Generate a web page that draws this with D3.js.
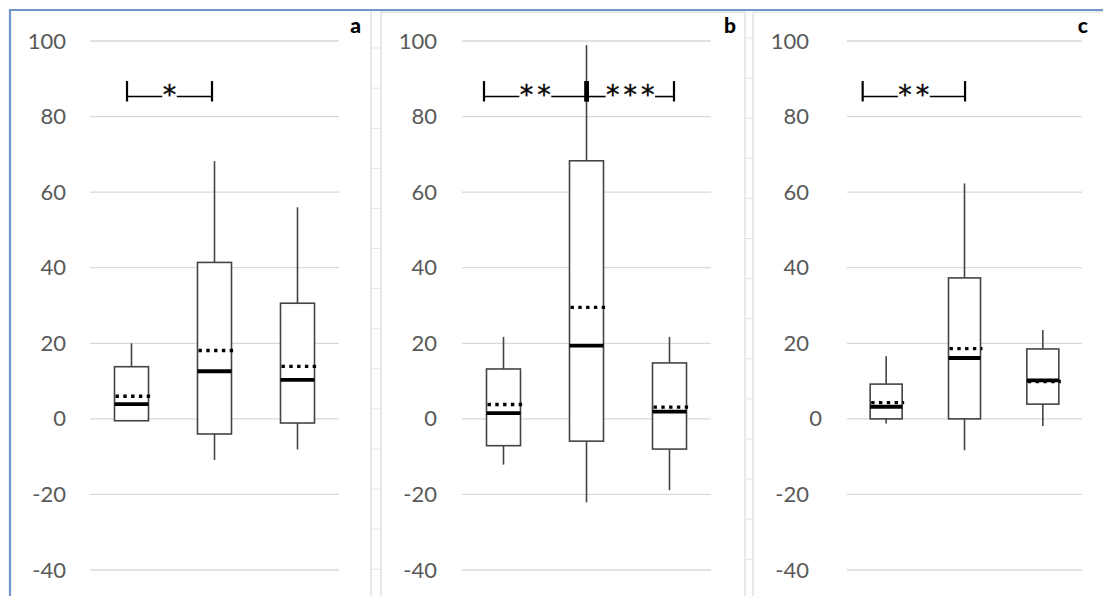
<!DOCTYPE html>
<html>
<head>
<meta charset="utf-8">
<script src="https://cdn.jsdelivr.net/npm/d3@7"></script>
<style>
  html, body { margin: 0; padding: 0; background: #fff; }
  svg { display: block; }
</style>
</head>
<body>
<svg id="chart" width="1103" height="596"></svg>
<script>
// ---------------- DATA ----------------
const panels = ["a", "b", "c"];
const categories = ["1", "2", "3"];
const yTicks = [100, 80, 60, 40, 20, 0, -20, -40];

// Panel a
const aMin    = [-0.5, -10.9, -8.1];
const aQ1     = [-0.5, -4.0, -1.1];
const aMedian = [3.9, 12.6, 10.3];
const aMean   = [6.0, 18.1, 13.9];
const aQ3     = [13.8, 41.4, 30.6];
const aMax    = [20.0, 68.2, 56.0];

// Panel b
const bMin    = [-12.1, -22.1, -18.9];
const bQ1     = [-7.1, -5.9, -8.0];
const bMedian = [1.5, 19.4, 1.9];
const bMean   = [3.8, 29.5, 3.1];
const bQ3     = [13.2, 68.3, 14.8];
const bMax    = [21.7, 98.9, 21.7];

// Panel c
const cMin    = [-1.2, -8.3, -1.9];
const cQ1     = [0.0, 0.0, 3.9];
const cMedian = [3.2, 16.1, 10.2];
const cMean   = [4.3, 18.6, 9.9];
const cQ3     = [9.2, 37.3, 18.5];
const cMax    = [16.6, 62.3, 23.5];

// Significance brackets: positions in category units (0..3), labels
const sigPanel = ["a", "b", "b", "c"];
const sigFrom  = [0.446, 0.265, 1.502, 0.2];
const sigTo    = [1.47, 1.502, 2.554, 1.507];
const sigLabel = ["*", "**", "***", "**"];
const sigTop = 89.4, sigBottom = 84.0, sigLine = 85.3;

// ---------------- LAYOUT ----------------
const svg = d3.select("#chart");
const W = 1103, H = 596;
const plotX = { a: [90, 339], b: [462, 711], c: [847, 1082] };
const labelRight = { a: 66, b: 437, c: 809 };
const letterX = { a: 361, b: 736, c: 1088 };
const boxW = { a: 34, b: 34, c: 32 };

const y = d3.scaleLinear().domain([-40, 100]).range([570, 41]);

const data = {
  a: categories.map((c, i) => ({ cat: c, min: aMin[i], q1: aQ1[i], med: aMedian[i], mean: aMean[i], q3: aQ3[i], max: aMax[i] })),
  b: categories.map((c, i) => ({ cat: c, min: bMin[i], q1: bQ1[i], med: bMedian[i], mean: bMean[i], q3: bQ3[i], max: bMax[i] })),
  c: categories.map((c, i) => ({ cat: c, min: cMin[i], q1: cQ1[i], med: cMedian[i], mean: cMean[i], q3: cQ3[i], max: cMax[i] }))
};

// ---------------- FRAME / SHEET DECORATION ----------------
const gridGray = "#d9d9d9";
const deco = svg.append("g");
deco.append("line").attr("x1", 371).attr("x2", 371).attr("y1", 11).attr("y2", H).attr("stroke", gridGray).attr("stroke-width", 1.2);
deco.append("rect").attr("x", 381).attr("y", 12).attr("width", 364).attr("height", H).attr("fill", "none").attr("stroke", gridGray).attr("stroke-width", 1.2);
deco.append("line").attr("x1", 753).attr("x2", 753).attr("y1", 12).attr("y2", H).attr("stroke", gridGray).attr("stroke-width", 1.2);
deco.append("line").attr("x1", 753).attr("x2", W).attr("y1", 12).attr("y2", 12).attr("stroke", gridGray).attr("stroke-width", 1.2);
d3.range(48, H, 40.1).forEach(v => {
  deco.append("line").attr("x1", 372).attr("x2", 380).attr("y1", v).attr("y2", v).attr("stroke", "#e3e3e3").attr("stroke-width", 1);
});
d3.range(38, H, 40.1).forEach(v => {
  deco.append("line").attr("x1", 746).attr("x2", 752).attr("y1", v).attr("y2", v).attr("stroke", "#e3e3e3").attr("stroke-width", 1);
});
deco.append("line").attr("x1", 9).attr("x2", W).attr("y1", 10).attr("y2", 10).attr("stroke", "#7196cb").attr("stroke-width", 2.2);
deco.append("line").attr("x1", 10).attr("x2", 10).attr("y1", 9).attr("y2", H).attr("stroke", "#7196cb").attr("stroke-width", 2.2);

// ---------------- PANELS ----------------
panels.forEach(p => {
  const g = svg.append("g").attr("class", "panel-" + p);
  const [x0, x1] = plotX[p];
  const x = d3.scalePoint().domain(categories).range([x0, x1]).padding(0.5);
  const xc = d3.scaleLinear().domain([0, 3]).range([x0, x1]);
  const bw = boxW[p];

  // gridlines
  g.append("g").selectAll("line").data(yTicks).join("line")
    .attr("x1", x0).attr("x2", x1)
    .attr("y1", d => y(d)).attr("y2", d => y(d))
    .attr("stroke", gridGray).attr("stroke-width", 1.3);

  // y axis labels
  const axis = d3.axisLeft(y).tickValues(yTicks).tickSize(0).tickPadding(0).tickFormat(d => String(d));
  const ax = g.append("g").attr("transform", `translate(${labelRight[p]},0)`).call(axis);
  ax.select(".domain").remove();
  ax.selectAll("text")
    .attr("font-family", "Lato, 'Open Sans', sans-serif")
    .attr("font-size", 22)
    .attr("fill", "#595959")
    .attr("x", d => (p === "c" && d === 0) ? 13 : 0);

  // panel letter
  g.append("text").attr("x", letterX[p]).attr("y", 33)
    .attr("text-anchor", "end")
    .attr("font-family", "Lato, 'Open Sans', sans-serif")
    .attr("font-weight", "900").attr("font-size", 21)
    .attr("fill", "#000").text(p);

  const boxes = g.append("g").selectAll("g").data(data[p]).join("g");
  boxes.append("line")
    .attr("x1", d => x(d.cat)).attr("x2", d => x(d.cat))
    .attr("y1", d => y(d.max)).attr("y2", d => y(d.q3))
    .attr("stroke", "#444").attr("stroke-width", 1.6);
  boxes.append("line")
    .attr("x1", d => x(d.cat)).attr("x2", d => x(d.cat))
    .attr("y1", d => y(d.q1)).attr("y2", d => y(d.min))
    .attr("stroke", "#444").attr("stroke-width", 1.6);
  boxes.append("rect")
    .attr("x", d => x(d.cat) - bw / 2).attr("width", bw)
    .attr("y", d => y(d.q3)).attr("height", d => y(d.q1) - y(d.q3))
    .attr("fill", "#fff").attr("stroke", "#444").attr("stroke-width", 1.6);
  boxes.append("line")
    .attr("x1", d => x(d.cat) - bw / 2).attr("x2", d => x(d.cat) + bw / 2)
    .attr("y1", d => y(d.med)).attr("y2", d => y(d.med))
    .attr("stroke", "#000").attr("stroke-width", 3.8);
  boxes.append("line")
    .attr("x1", d => x(d.cat) - bw / 2 + 1).attr("x2", d => x(d.cat) + bw / 2 + 2)
    .attr("y1", d => y(d.mean)).attr("y2", d => y(d.mean))
    .attr("stroke", "#000").attr("stroke-width", 3.4)
    .attr("stroke-dasharray", "3.4,4.4");

  // significance brackets
  sigPanel.forEach((sp, i) => {
    if (sp !== p) return;
    const xa = xc(sigFrom[i]), xb = xc(sigTo[i]);
    const mid = (xa + xb) / 2;
    const ls = 4;
    const t = g.append("text")
      .attr("x", mid + ls / 2).attr("y", y(sigLine) + 7)
      .attr("text-anchor", "middle")
      .attr("font-family", "'DejaVu Sans', sans-serif")
      .attr("font-size", 27).attr("letter-spacing", ls)
      .attr("fill", "#000").attr("stroke", "#000").attr("stroke-width", 0.3)
      .text(sigLabel[i]);
    const tw = t.node().getComputedTextLength() - ls;
    const gap = tw / 2 + 0.5;
    g.append("line").attr("x1", xa).attr("x2", mid - gap)
      .attr("y1", y(sigLine)).attr("y2", y(sigLine)).attr("stroke", "#000").attr("stroke-width", 1.6);
    g.append("line").attr("x1", mid + gap).attr("x2", xb)
      .attr("y1", y(sigLine)).attr("y2", y(sigLine)).attr("stroke", "#000").attr("stroke-width", 1.6);
    [sigFrom[i], sigTo[i]].forEach(v => {
      const shared = sigPanel.filter((q, j) => q === p && (sigFrom[j] === v || sigTo[j] === v)).length > 1;
      g.append("line").attr("x1", xc(v)).attr("x2", xc(v))
        .attr("y1", y(sigTop)).attr("y2", y(sigBottom))
        .attr("stroke", "#000").attr("stroke-width", shared ? 4.5 : 2.2);
    });
  });
});
</script>
</body>
</html>
